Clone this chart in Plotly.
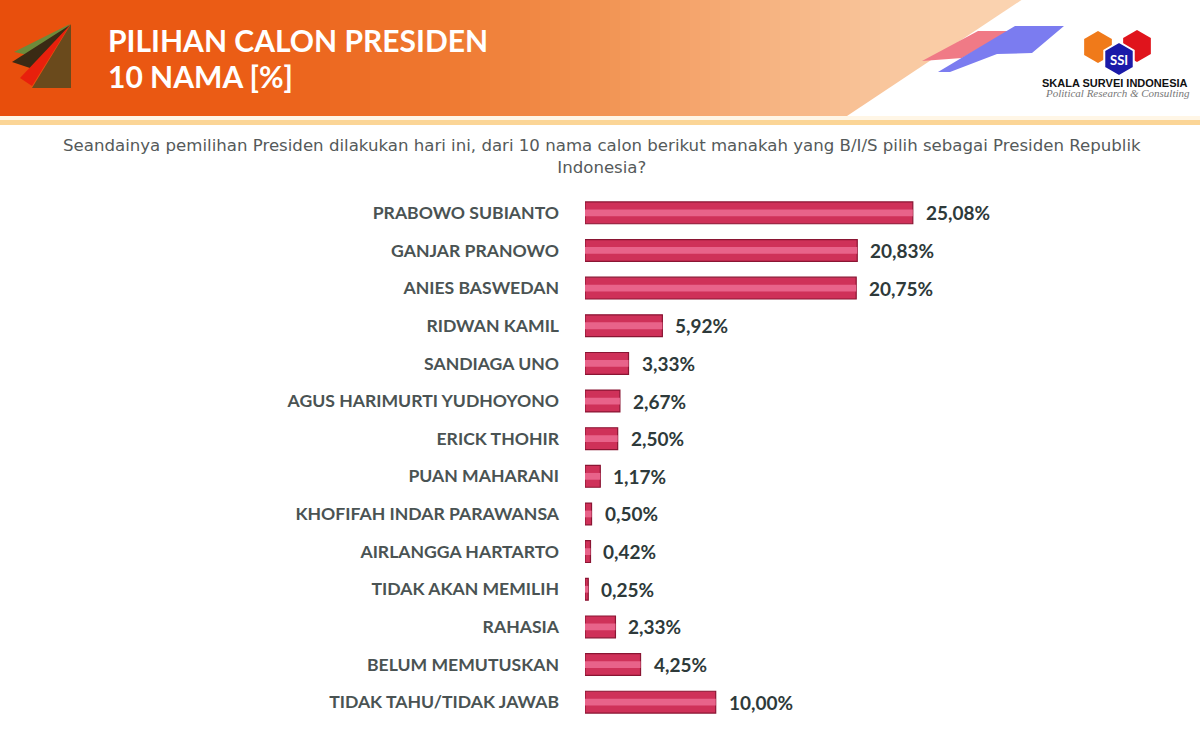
import plotly.graph_objects as go

categories = ["PRABOWO SUBIANTO", "GANJAR PRANOWO", "ANIES BASWEDAN", "RIDWAN KAMIL",
              "SANDIAGA UNO", "AGUS HARIMURTI YUDHOYONO", "ERICK THOHIR", "PUAN MAHARANI",
              "KHOFIFAH INDAR PARAWANSA", "AIRLANGGA HARTARTO", "TIDAK AKAN MEMILIH",
              "RAHASIA", "BELUM MEMUTUSKAN", "TIDAK TAHU/TIDAK JAWAB"]
values = [25.08, 20.83, 20.75, 5.92, 3.33, 2.67, 2.50, 1.17, 0.50, 0.42, 0.25, 2.33, 4.25, 10.00]
value_labels = ["25,08%", "20,83%", "20,75%", "5,92%", "3,33%", "2,67%", "2,50%", "1,17%",
                "0,50%", "0,42%", "0,25%", "2,33%", "4,25%", "10,00%"]

W, H = 1200, 734
L, R, T, B = 585, 15, 194, 13
PW, PH = W - L - R, H - T - B


def px(x):
    return (x - L) / PW


def py(y):
    return (H - B - y) / PH


fig = go.Figure()
fig.add_trace(go.Bar(y=categories, x=values, orientation="h", width=0.58,
                     marker=dict(color="#cf3159", line=dict(color="#8a1533", width=1.2)),
                     hoverinfo="skip", showlegend=False))
fig.add_trace(go.Bar(y=categories, x=values, orientation="h", width=0.18,
                     marker=dict(color="#e8638a", line=dict(width=0)),
                     hoverinfo="skip", showlegend=False))

annotations = []
for c, v, t in zip(categories, values, value_labels):
    annotations.append(dict(x=v, y=c, xref="x", yref="y", text=t, showarrow=False,
                            xanchor="left", yanchor="middle", xshift=11,
                            font=dict(family="Lato", size=19, color="#2e3a3a", weight="bold")))

shapes = []


def hex2rgb(h):
    h = h.lstrip("#")
    return tuple(int(h[i:i + 2], 16) for i in (0, 2, 4))


stops = [(0, "#e84e0c"), (250, "#eb5e16"), (450, "#ef7a32"), (600, "#f29352"),
         (750, "#f6b07c"), (900, "#f9c8a0"), (1030, "#fbd6b4")]


def color_at(x):
    for (x0, c0), (x1, c1) in zip(stops[:-1], stops[1:]):
        if x0 <= x <= x1:
            f = (x - x0) / (x1 - x0)
            a, b = hex2rgb(c0), hex2rgb(c1)
            return "rgb(%d,%d,%d)" % tuple(round(a[i] + (b[i] - a[i]) * f) for i in range(3))
    return stops[-1][1]


step = 10
for x in range(0, 1030, step):
    shapes.append(dict(type="rect", xref="paper", yref="paper", x0=px(x), x1=px(x + step + 1),
                       y0=py(116), y1=py(0), fillcolor=color_at(x + step / 2),
                       line=dict(width=0), layer="above"))


def path(pts):
    s = "M " + " L ".join("%f,%f" % (px(a), py(b)) for a, b in pts) + " Z"
    return s


# white diagonal cut on the right
shapes.append(dict(type="path", xref="paper", yref="paper",
                   path=path([(1023, -1), (1201, -1), (1201, 116), (847, 116)]),
                   fillcolor="white", line=dict(width=0), layer="above"))
# bottom stripes
shapes.append(dict(type="rect", xref="paper", yref="paper", x0=px(0), x1=px(1200), y0=py(120), y1=py(116),
                   fillcolor="#fff6e6", line=dict(width=0), layer="above"))
shapes.append(dict(type="rect", xref="paper", yref="paper", x0=px(0), x1=px(1200), y0=py(125), y1=py(120),
                   fillcolor="#fbd596", line=dict(width=0), layer="above"))
# decorative stripes
shapes.append(dict(type="path", xref="paper", yref="paper",
                   path=path([(922, 61), (978, 31), (1010, 31), (962, 58)]),
                   fillcolor="#f07a86", line=dict(width=0), layer="above"))
shapes.append(dict(type="path", xref="paper", yref="paper",
                   path=path([(938, 72), (1015, 26), (1064, 26), (1032, 53), (997, 54), (950, 72)]),
                   fillcolor="#7b7cf0", line=dict(width=0), layer="above"))
# left icon
shapes.append(dict(type="path", xref="paper", yref="paper",
                   path=path([(14, 52), (70, 24), (42, 58)]),
                   fillcolor="#6d8a3a", line=dict(width=0), layer="above"))
shapes.append(dict(type="path", xref="paper", yref="paper",
                   path=path([(12, 62), (70, 25), (36, 70)]),
                   fillcolor="#3a2a14", line=dict(width=0), layer="above"))
shapes.append(dict(type="path", xref="paper", yref="paper",
                   path=path([(20, 78), (70, 25), (32, 86)]),
                   fillcolor="#e8200c", line=dict(width=0), layer="above"))
shapes.append(dict(type="path", xref="paper", yref="paper",
                   path=path([(32, 88), (71, 24), (71, 88)]),
                   fillcolor="#6a4a1c", line=dict(width=0), layer="above"))


# logo hexagons
def hexagon(cx, cy, r):
    import math
    pts = [(cx + r * math.cos(math.radians(a)), cy + r * math.sin(math.radians(a)))
           for a in (30, 90, 150, 210, 270, 330)]
    return path(pts)


shapes.append(dict(type="path", xref="paper", yref="paper", path=hexagon(1098, 47, 16),
                   fillcolor="#f07a1a", line=dict(width=0), layer="above"))
shapes.append(dict(type="path", xref="paper", yref="paper", path=hexagon(1137, 46, 16),
                   fillcolor="#e0141c", line=dict(width=0), layer="above"))
shapes.append(dict(type="path", xref="paper", yref="paper", path=hexagon(1119, 59, 17),
                   fillcolor="#1a1aa8", line=dict(color="white", width=2), layer="above"))

annotations += [
    dict(x=px(106), y=py(40), xref="paper", yref="paper", text="PILIHAN CALON PRESIDEN",
         showarrow=False, xanchor="left", yanchor="middle",
         font=dict(family="Lato", size=30, color="white", weight="bold")),
    dict(x=px(106), y=py(76), xref="paper", yref="paper", text="10 NAMA [%]",
         showarrow=False, xanchor="left", yanchor="middle",
         font=dict(family="Lato", size=30, color="white", weight="bold")),
    dict(x=px(1119), y=py(60), xref="paper", yref="paper", text="SSI",
         showarrow=False, xanchor="center", yanchor="middle",
         font=dict(family="Lato", size=13, color="white", weight="bold")),
    dict(x=px(1115), y=py(83), xref="paper", yref="paper", text="SKALA SURVEI INDONESIA",
         showarrow=False, xanchor="center", yanchor="middle",
         font=dict(family="Liberation Sans", size=11, color="#111111", weight="bold")),
    dict(x=px(1117), y=py(93), xref="paper", yref="paper", text="<i>Political Research &amp; Consulting</i>",
         showarrow=False, xanchor="center", yanchor="middle",
         font=dict(family="Liberation Serif", size=11, color="#777777")),
    dict(x=px(602), y=py(157), xref="paper", yref="paper",
         text="Seandainya pemilihan Presiden dilakukan hari ini, dari 10 nama calon berikut manakah yang B/I/S pilih sebagai Presiden Republik<br>Indonesia?",
         showarrow=False, xanchor="center", yanchor="middle", align="center",
         font=dict(family="DejaVu Sans", size=16.6, color="#555a5a")),
]

fig.update_layout(
    width=W, height=H,
    margin=dict(l=L, r=R, t=T, b=B),
    paper_bgcolor="white", plot_bgcolor="white",
    barmode="overlay",
    shapes=shapes, annotations=annotations,
    xaxis=dict(range=[0, PW / 13.07], visible=False, fixedrange=True),
    yaxis=dict(categoryorder="array", categoryarray=categories, autorange="reversed",
               showgrid=False, zeroline=False, showline=False, ticks="",
               ticklabelstandoff=25,
               tickfont=dict(family="Lato", size=17.6, color="#4a5353", weight="bold")),
)

fig.write_html("out.html")
